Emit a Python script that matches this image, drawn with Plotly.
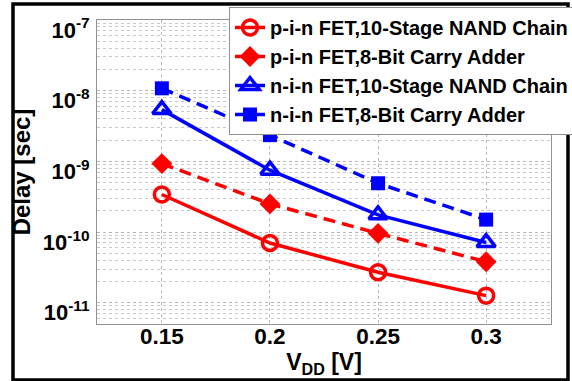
import plotly.graph_objects as go

vdd = [0.15, 0.2, 0.25, 0.3]
pin_nand = [3.4e-10, 7.0e-11, 2.7e-11, 1.26e-11]
pin_adder = [9.3e-10, 2.5e-10, 9.6e-11, 3.8e-11]
nin_nand = [5.4e-9, 7.5e-10, 1.75e-10, 7.1e-11]
nin_adder = [1.08e-8, 2.35e-9, 4.9e-10, 1.5e-10]

names = ["p-i-n FET,10-Stage NAND Chain", "p-i-n FET,8-Bit Carry Adder",
         "n-i-n FET,10-Stage NAND Chain", "n-i-n FET,8-Bit Carry Adder"]

x_ticks = [0.15, 0.2, 0.25, 0.3]
x_tick_text = ["0.15", "0.2", "0.25", "0.3"]
y_ticks = [1e-11, 1e-10, 1e-9, 1e-8, 1e-7]
y_tick_text = ["10<sup>-11</sup>", "10<sup>-10</sup>", "10<sup>-9</sup>",
               "10<sup>-8</sup>", "10<sup>-7</sup>"]

W, H = 572, 381
L, R, T, B = 97, 551, 20, 324

FONT = "Liberation Sans, Arial, sans-serif"
RED = "#ff0000"
BLUE = "#0000ff"

fig = go.Figure()
fig.add_trace(go.Scatter(x=vdd, y=pin_nand, name=names[0], mode="lines+markers",
                         line=dict(color=RED, width=3.5),
                         marker=dict(symbol="circle-open", size=15, color=RED, line=dict(width=3.5, color=RED))))
fig.add_trace(go.Scatter(x=vdd, y=pin_adder, name=names[1], mode="lines+markers",
                         line=dict(color=RED, width=3.5, dash="12px,7px"),
                         marker=dict(symbol="diamond", size=16, color=RED)))
fig.add_trace(go.Scatter(x=vdd, y=nin_nand, name=names[2], mode="lines+markers",
                         line=dict(color=BLUE, width=3.5),
                         marker=dict(symbol="triangle-up-open", size=16, color=BLUE, line=dict(width=3.5, color=BLUE))))
fig.add_trace(go.Scatter(x=vdd, y=nin_adder, name=names[3], mode="lines+markers",
                         line=dict(color=BLUE, width=3.5, dash="12px,7px"),
                         marker=dict(symbol="square", size=14, color=BLUE)))

def px_x(p):
    return (p - L) / (R - L)

def px_y(p):
    return (B - p) / (B - T)

fig.add_shape(type="rect", xref="paper", yref="paper",
              x0=px_x(13), x1=px_x(568), y0=px_y(380), y1=px_y(4),
              line=dict(color="black", width=3.5), layer="above")

fig.update_layout(
    width=W, height=H,
    margin=dict(l=L, r=W - R, t=T, b=H - B, autoexpand=False),
    paper_bgcolor="white", plot_bgcolor="white",
    font=dict(family=FONT, color="black"),
    showlegend=True,
    legend=dict(x=px_x(229), y=px_y(7), xanchor="left", yanchor="top",
                bgcolor="white", bordercolor="#909090", borderwidth=1,
                font=dict(family=FONT, size=20, weight="bold", color="black"),
                tracegroupgap=0, itemwidth=30),
    xaxis=dict(range=[0.12, 0.33], tickvals=x_ticks, ticktext=x_tick_text,
               showgrid=True, gridcolor="#b8b8b8", griddash="dot", gridwidth=1,
               showline=True, linecolor="#909090", linewidth=1, mirror=True,
               ticks="", zeroline=False, automargin=False, ticklabelstandoff=-8,
               tickfont=dict(family=FONT, size=22.5, weight="bold"),
               title=dict(text="V<sub>DD</sub> [V]", standoff=0,
                          font=dict(family=FONT, size=23, weight="bold"))),
    yaxis=dict(type="log", range=[-11.301, -7], tickvals=y_ticks, ticktext=y_tick_text,
               showgrid=True, gridcolor="#b8b8b8", griddash="dot", gridwidth=1,
               minor=dict(dtick="D1", showgrid=True, gridcolor="#c8c8c8", griddash="dot", ticks=""),
               showline=True, linecolor="#909090", linewidth=1, mirror=True,
               ticks="", zeroline=False, automargin=False,
               ticklabelshift=10, ticklabelstandoff=2,
               tickfont=dict(family=FONT, size=22, weight="bold"),
               title=dict(text="Delay [sec]", standoff=5,
                          font=dict(family=FONT, size=24, weight="bold"))),
)

fig.write_html("out.html")
